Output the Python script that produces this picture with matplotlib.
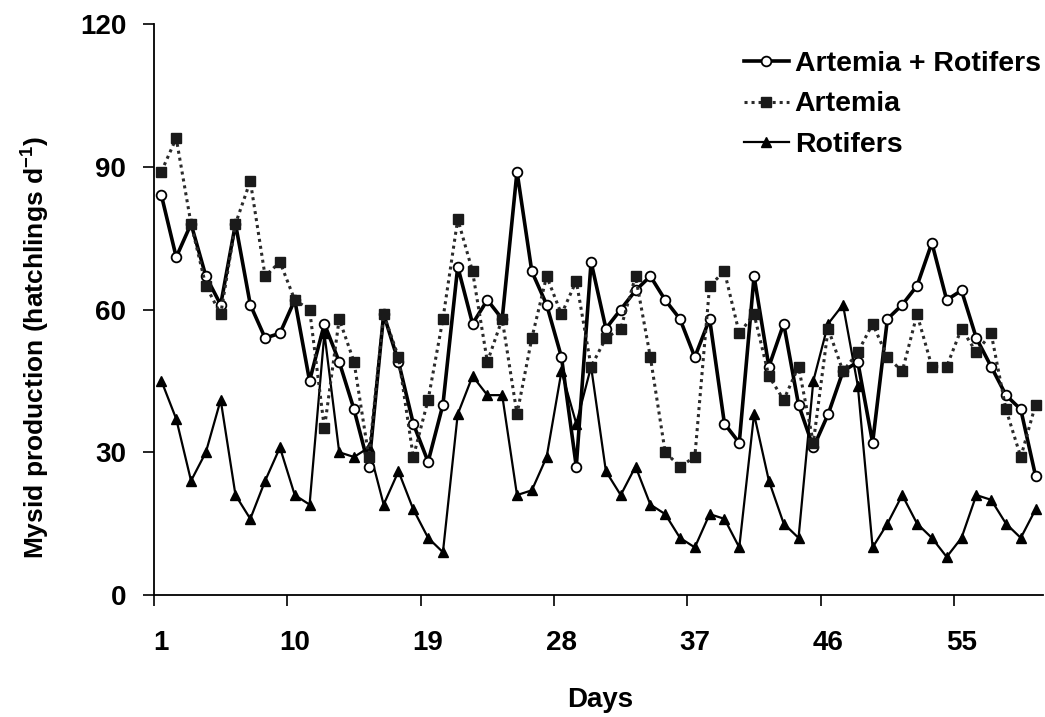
import matplotlib
matplotlib.use("Agg")
import matplotlib.pyplot as plt
from matplotlib.ticker import FixedLocator, NullFormatter, FixedFormatter

plt.rcParams['font.family'] = ['Liberation Sans', 'DejaVu Sans']
plt.rcParams['font.weight'] = 'bold'
plt.rcParams['mathtext.fontset'] = 'custom'
plt.rcParams['mathtext.rm'] = 'Liberation Sans:bold'
plt.rcParams['mathtext.bf'] = 'Liberation Sans:bold'

days = list(range(1, 61))
combined = [84, 71, 78, 67, 61, 78, 61, 54, 55, 62,
            45, 57, 49, 39, 27, 59, 49, 36, 28, 40,
            69, 57, 62, 58, 89, 68, 61, 50, 27, 70,
            56, 60, 64, 67, 62, 58, 50, 58, 36, 32,
            67, 48, 57, 40, 31, 38, 47, 49, 32, 58,
            61, 65, 74, 62, 64, 54, 48, 42, 39, 25]
artemia = [89, 96, 78, 65, 59, 78, 87, 67, 70, 62,
           60, 35, 58, 49, 29, 59, 50, 29, 41, 58,
           79, 68, 49, 58, 38, 54, 67, 59, 66, 48,
           54, 56, 67, 50, 30, 27, 29, 65, 68, 55,
           59, 46, 41, 48, 32, 56, 47, 51, 57, 50,
           47, 59, 48, 48, 56, 51, 55, 39, 29, 40]
rotifers = [45, 37, 24, 30, 41, 21, 16, 24, 31, 21,
            19, 55, 30, 29, 31, 19, 26, 18, 12, 9,
            38, 46, 42, 42, 21, 22, 29, 47, 36, 48,
            26, 21, 27, 19, 17, 12, 10, 17, 16, 10,
            38, 24, 15, 12, 45, 57, 61, 44, 10, 15,
            21, 15, 12, 8, 12, 21, 20, 15, 12, 18]
series_labels = ["Artemia + Rotifers", "Artemia", "Rotifers"]
xtick_labels = ["1", "10", "19", "28", "37", "46", "55"]
yticks = [0, 30, 60, 90, 120]

fig = plt.figure(figsize=(10.45, 7.17), dpi=100)
ax = fig.add_axes([154/1045, 1-595/717, (1043-154)/1045, (595-24)/717])

ax.plot(days, combined, color='black', lw=2.6, marker='o', ms=7,
        mfc='white', mec='black', mew=1.3, label=series_labels[0], zorder=3)
ax.plot(days, artemia, color='#2a2a2a', lw=2.2, ls=(0, (1, 1.3)), marker='s', ms=6.5,
        mfc='#1a1a1a', mec='#1a1a1a', label=series_labels[1], zorder=4)
ax.plot(days, rotifers, color='black', lw=1.6, marker='^', ms=7,
        mfc='black', mec='black', label=series_labels[2], zorder=2)

ax.set_xlim(0.5, 60.5)
ax.set_ylim(0, 120)
for s in ['top', 'right']:
    ax.spines[s].set_visible(False)
for s in ['left', 'bottom']:
    ax.spines[s].set_linewidth(1.3)

major_pos = [int(l) - 0.5 for l in xtick_labels]
ax.xaxis.set_major_locator(FixedLocator(major_pos))
ax.xaxis.set_major_formatter(NullFormatter())
ax.xaxis.set_minor_locator(FixedLocator([int(l) for l in xtick_labels]))
ax.xaxis.set_minor_formatter(FixedFormatter(xtick_labels))
ax.tick_params(axis='x', which='major', direction='out', length=8, width=1.2)
ax.tick_params(axis='x', which='minor', length=0, pad=25, labelsize=20)
ax.set_yticks(yticks)
ax.set_yticklabels([str(v) for v in yticks])
ax.tick_params(axis='y', direction='out', length=8, width=1.2, pad=12, labelsize=20)

fig.text(600/1045, 1-700/717, "Days", ha='center', va='center', fontsize=20, fontweight='bold')
fig.text(35/1045, 1-348/717, r"Mysid production (hatchlings d$^{\mathbf{-1}}$)",
         rotation=90, ha='center', va='center', fontsize=19, fontweight='bold')

leg = ax.legend(loc='upper right', bbox_to_anchor=(1055/1045, 1-37/717),
                bbox_transform=fig.transFigure, frameon=False, fontsize=20.5,
                handlelength=1.6, handletextpad=0.2, labelspacing=0.5, borderpad=0)

fig.savefig("out.png", dpi=100)
